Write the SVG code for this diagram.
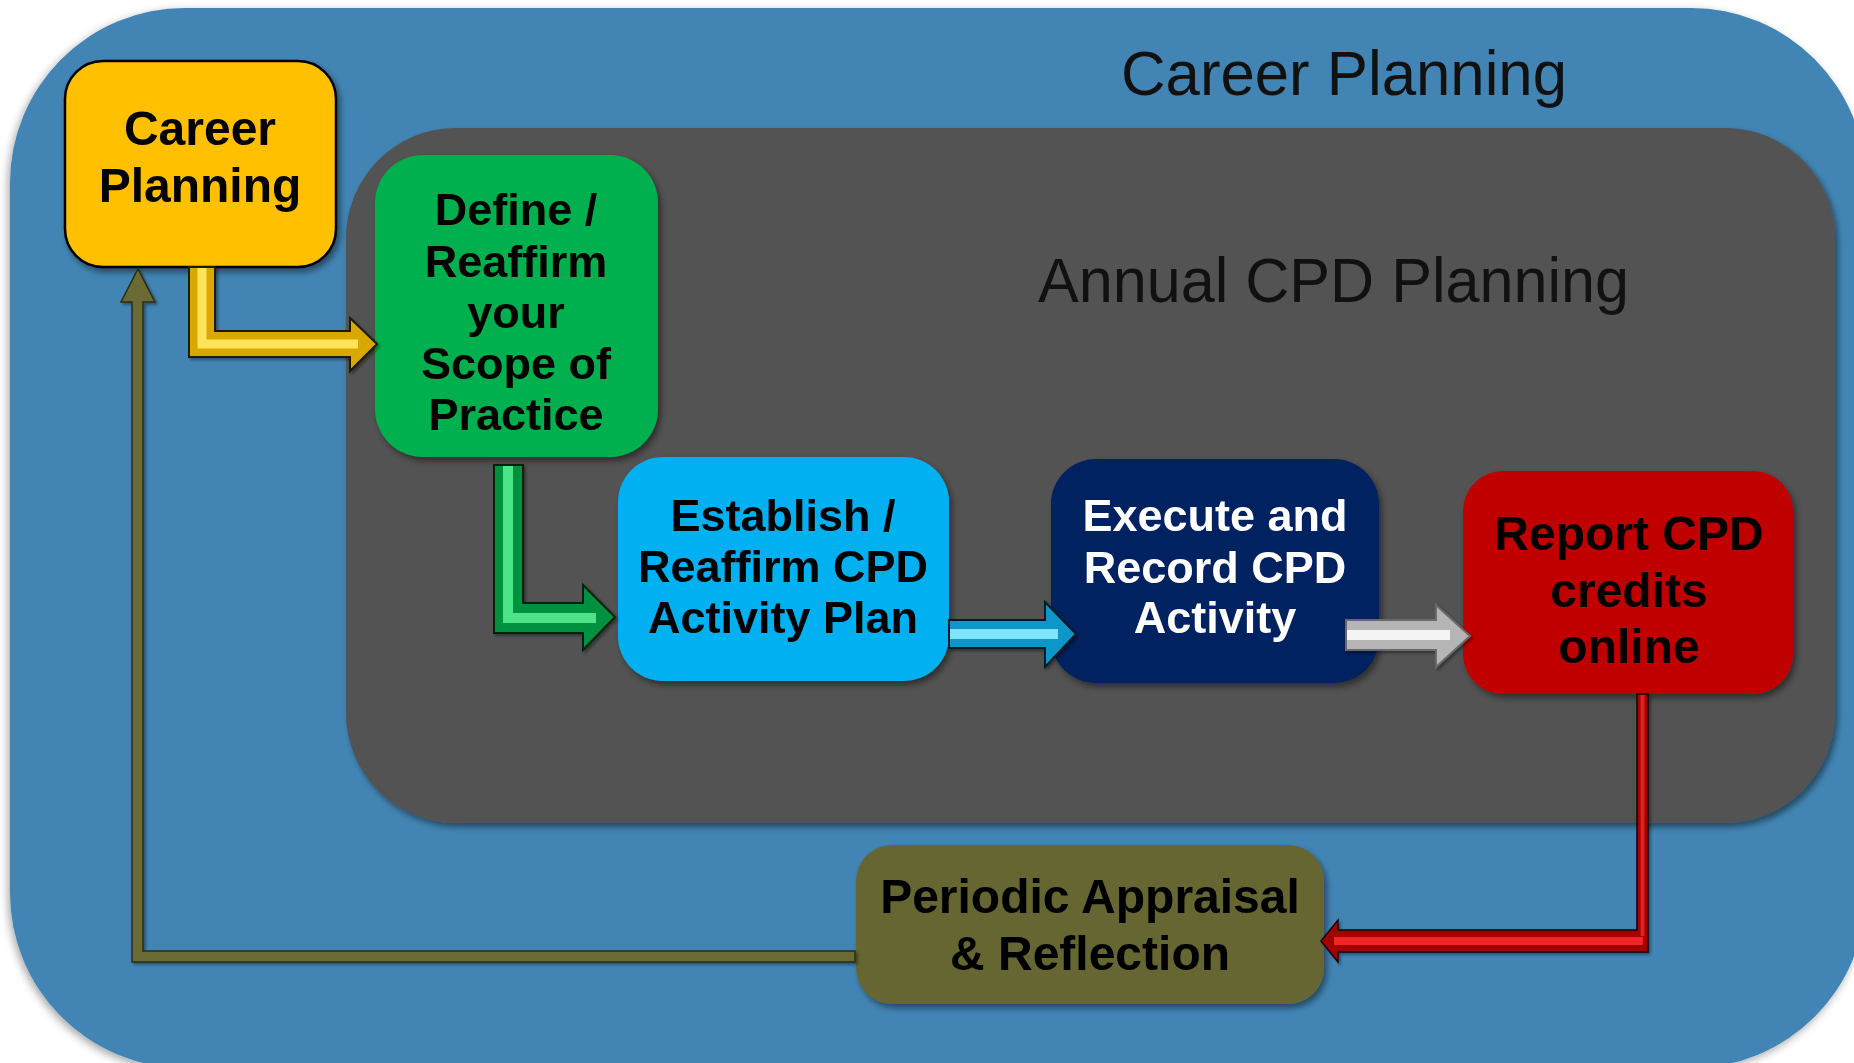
<svg xmlns="http://www.w3.org/2000/svg" width="1854" height="1063" viewBox="0 0 1854 1063">
  <defs>
    <filter id="shadow" x="-10%" y="-10%" width="125%" height="130%">
      <feDropShadow dx="3" dy="4" stdDeviation="3" flood-color="#000" flood-opacity="0.45"/>
    </filter>
    <filter id="softShadow" x="-5%" y="-5%" width="110%" height="110%">
      <feDropShadow dx="-2" dy="3" stdDeviation="4" flood-color="#000" flood-opacity="0.35"/>
    </filter>
    <filter id="arrowShadow" x="-10%" y="-10%" width="130%" height="130%">
      <feDropShadow dx="2" dy="2" stdDeviation="1.5" flood-color="#000" flood-opacity="0.4"/>
    </filter>
  </defs>
  <style>
    .title { font-family: "Liberation Sans", Arial, sans-serif; font-size: 63px; fill: #111; }
    .lbl { font-family: "Liberation Sans", Arial, sans-serif; font-weight: bold; text-anchor: middle; fill: #000; }
    .s45 { font-size: 45px; }
    .s48 { font-size: 48px; }
    .white { fill: #fff; }
    .ridge { fill: none; stroke-linejoin: miter; stroke-linecap: butt; }
  </style>

  <!-- background containers -->
  <g id="outer">
    <rect x="10" y="8" width="1856" height="1060" rx="175" ry="175" fill="#4285B4" filter="url(#softShadow)"/>
    <text class="title" x="1121" y="95" textLength="446" lengthAdjust="spacingAndGlyphs">Career Planning</text>
  </g>
  <g id="annual">
    <rect x="346" y="128" width="1489" height="695" rx="110" ry="110" fill="#525252" filter="url(#shadow)"/>
    <text class="title" x="1038" y="302" textLength="591" lengthAdjust="spacingAndGlyphs">Annual CPD Planning</text>
  </g>

  <!-- nodes -->
  <g id="n-career" filter="url(#shadow)">
    <rect x="65" y="61" width="271" height="206" rx="38" ry="38" fill="#FFC000" stroke="#000" stroke-width="2.5"/>
    <text class="lbl s48" x="200" y="145">Career</text>
    <text class="lbl s48" x="200" y="202">Planning</text>
  </g>
  <g id="n-define" filter="url(#shadow)">
    <rect x="375" y="155" width="283" height="302" rx="48" ry="48" fill="#00B050"/>
    <text class="lbl s45" x="516" y="225">Define /</text>
    <text class="lbl s45" x="516" y="277">Reaffirm</text>
    <text class="lbl s45" x="516" y="328">your</text>
    <text class="lbl s45" x="516" y="379">Scope of</text>
    <text class="lbl s45" x="516" y="430">Practice</text>
  </g>
  <g id="n-establish" filter="url(#shadow)">
    <rect x="618" y="457" width="331" height="224" rx="45" ry="45" fill="#00B0F0"/>
    <text class="lbl s45" x="783" y="531">Establish /</text>
    <text class="lbl s45" x="783" y="582">Reaffirm CPD</text>
    <text class="lbl s45" x="783" y="633">Activity Plan</text>
  </g>
  <g id="n-execute" filter="url(#shadow)">
    <rect x="1051" y="459" width="328" height="224" rx="45" ry="45" fill="#002060"/>
    <text class="lbl s45 white" x="1215" y="531">Execute and</text>
    <text class="lbl s45 white" x="1215" y="583">Record CPD</text>
    <text class="lbl s45 white" x="1215" y="633">Activity</text>
  </g>
  <g id="n-report" filter="url(#shadow)">
    <rect x="1463" y="471" width="330" height="223" rx="40" ry="40" fill="#C00000"/>
    <text class="lbl s48" x="1629" y="550">Report CPD</text>
    <text class="lbl s48" x="1629" y="607">credits</text>
    <text class="lbl s48" x="1629" y="663">online</text>
  </g>
  <g id="n-appraisal" filter="url(#shadow)">
    <rect x="856" y="845" width="468" height="159" rx="36" ry="36" fill="#666633"/>
    <text class="lbl s48" x="1090" y="913">Periodic Appraisal</text>
    <text class="lbl s48" x="1090" y="970">&amp; Reflection</text>
  </g>

  <!-- connectors -->
  <g id="connectors" filter="url(#arrowShadow)">
    <g id="c-career-define">
      <polygon points="189,267 215,267 215,331 350,331 350,318 377,344 350,371 350,357 189,357" fill="#D9A800" stroke="#1e1a00" stroke-width="2"/>
      <polyline class="ridge" points="202,268 202,344 358,344" stroke="#FFE35A" stroke-width="9"/>
    </g>
    <g id="c-define-establish">
      <polygon points="494,465 523,465 523,603 583,603 583,585 615,617 583,650 583,633 494,633" fill="#00913F" stroke="#002410" stroke-width="2"/>
      <polyline class="ridge" points="508,466 508,618 596,618" stroke="#4EE487" stroke-width="10"/>
    </g>
    <g id="c-establish-execute">
      <polygon points="949,620 1045,620 1045,602 1076,634 1045,667 1045,648 949,648" fill="#0A96C8" stroke="#001a26" stroke-width="2"/>
      <polyline class="ridge" points="950,634 1058,634" stroke="#7FE2FF" stroke-width="10"/>
    </g>
    <g id="c-execute-report">
      <polygon points="1346,620 1436,620 1436,605 1470,636 1436,667 1436,650 1346,650" fill="#B5B5B5" stroke="#6a6a6a" stroke-width="2"/>
      <polyline class="ridge" points="1347,635 1450,635" stroke="#F4F4F4" stroke-width="10"/>
    </g>
    <g id="c-report-appraisal">
      <polygon points="1637,694 1648,694 1648,952 1338,952 1338,962 1321,941 1338,920 1338,930 1637,930" fill="#A50000" stroke="#1a0000" stroke-width="1.5"/>
      <polyline class="ridge" points="1642.5,695 1642.5,936" stroke="#E02020" stroke-width="4"/>
      <polyline class="ridge" points="1643,941 1334,941" stroke="#F02828" stroke-width="8"/>
    </g>
    <g id="c-appraisal-career">
      <polygon points="132,302 121,302 138,269 155,302 143,302 143,951 855,951 855,962 132,962" fill="#6B6B35" stroke="#2c2c12" stroke-width="1.5"/>
    </g>
  </g>
</svg>
